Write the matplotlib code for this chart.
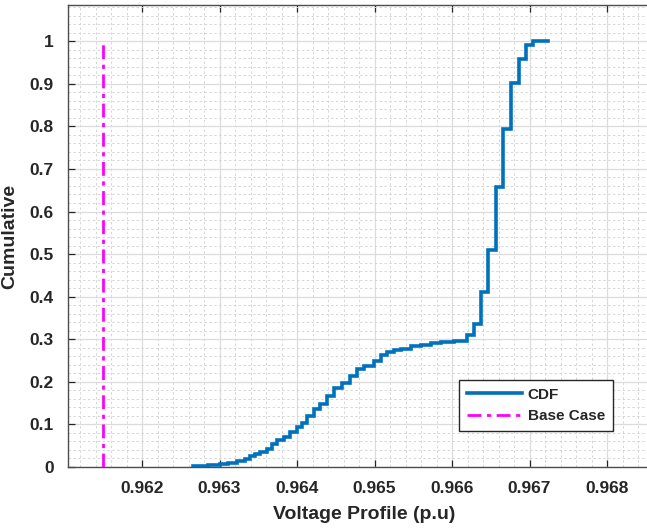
import matplotlib
matplotlib.use("Agg")
import matplotlib.pyplot as plt
from matplotlib.ticker import MultipleLocator, FixedLocator, FixedFormatter

# ---- data ----
cdf_x = [0.962664, 0.962664, 0.962858, 0.963009, 0.963116, 0.963224, 0.963332,
         0.963397, 0.963461, 0.963526, 0.963612, 0.963677, 0.963741, 0.963828,
         0.963914, 0.964000, 0.964065, 0.964129, 0.964216, 0.964302, 0.964388,
         0.964474, 0.964582, 0.964690, 0.964776, 0.964862, 0.964991, 0.965078,
         0.965164, 0.965250, 0.965336, 0.965466, 0.965595, 0.965724, 0.965853,
         0.966026, 0.966190, 0.966280, 0.966370, 0.966470, 0.966570, 0.966660,
         0.966760, 0.966860, 0.966950, 0.967050, 0.967240]
cdf_y = [0.0, 0.003, 0.005, 0.008, 0.010, 0.014, 0.019,
         0.025, 0.030, 0.036, 0.042, 0.054, 0.063, 0.071,
         0.083, 0.095, 0.103, 0.119, 0.137, 0.147, 0.166,
         0.186, 0.198, 0.214, 0.230, 0.238, 0.250, 0.262,
         0.269, 0.274, 0.277, 0.283, 0.287, 0.291, 0.293,
         0.296, 0.310, 0.336, 0.411, 0.509, 0.658, 0.793,
         0.902, 0.959, 0.990, 1.000, 1.000]
base_case_x = [0.9615, 0.9615]
base_case_y = [0.0, 1.0]

x_ticks = [0.962, 0.963, 0.964, 0.965, 0.966, 0.967, 0.968]
x_ticklabels = ["0.962", "0.963", "0.964", "0.965", "0.966", "0.967", "0.968"]
y_ticks = [0, 0.1, 0.2, 0.3, 0.4, 0.5, 0.6, 0.7, 0.8, 0.9, 1.0]
y_ticklabels = ["0", "0.1", "0.2", "0.3", "0.4", "0.5", "0.6", "0.7", "0.8", "0.9", "1"]

plt.rcParams['font.family'] = ['Liberation Sans', 'DejaVu Sans']

W, H = 647, 528
fig = plt.figure(figsize=(W / 100, H / 100), dpi=100)

left_px, right_px, top_px, bottom_px = 67.5, 660, 5, 467
ax = fig.add_axes([left_px / W, 1 - bottom_px / H,
                   (right_px - left_px) / W, (bottom_px - top_px) / H])

x0_px, dx_px = 142.0, 77.5  # pixel of 0.962, pixels per 0.001
xmin = 0.962 - (x0_px - left_px) / dx_px * 0.001
xmax = 0.962 + (right_px - x0_px) / dx_px * 0.001
ax.set_xlim(xmin, xmax)
ax.set_ylim(0, 1.085)

txt = '#262626'
ax.step(cdf_x, cdf_y, where='post', color='#0072BD', lw=2.6, label='CDF',
        zorder=3, solid_joinstyle='miter')
ax.plot(base_case_x, base_case_y, color='#FF00FF', lw=2.0, ls=(0, (5, 2, 1.5, 2)),
        label='Base Case', zorder=3)

ax.xaxis.set_major_locator(FixedLocator(x_ticks))
ax.xaxis.set_major_formatter(FixedFormatter(x_ticklabels))
ax.yaxis.set_major_locator(FixedLocator(y_ticks))
ax.yaxis.set_major_formatter(FixedFormatter(y_ticklabels))
ax.xaxis.set_minor_locator(MultipleLocator(0.0002))
ax.yaxis.set_minor_locator(MultipleLocator(0.02))

ax.grid(True, which='major', color='#dcdcdc', lw=0.9, ls='-', zorder=0)
ax.grid(True, which='minor', color='#d6d6d6', lw=0.7, ls=(0, (2.5, 2.5)), zorder=0)
ax.set_axisbelow(True)

ax.tick_params(which='major', direction='in', length=5, width=0.9, color=txt,
               top=True, right=True, labelsize=12.5, labelcolor=txt, pad=10)
ax.tick_params(which='minor', length=0, top=True, right=True)
for lab in ax.get_xticklabels() + ax.get_yticklabels():
    lab.set_fontweight('bold')
for s in ax.spines.values():
    s.set_color('#4d4d4d')
    s.set_linewidth(1.0)

ax.set_xlabel('Voltage Profile (p.u)', fontsize=14, fontweight='bold', color=txt, labelpad=7)
ax.set_ylabel('Cumulative', fontsize=14, fontweight='bold', color=txt, labelpad=8)

leg = ax.legend(loc='upper left', bbox_to_anchor=(459 / W, 1 - 380 / H),
                bbox_transform=fig.transFigure, prop={'weight': 'bold', 'size': 11},
                handlelength=3.6, handletextpad=0.4, borderpad=0.5, labelspacing=0.5,
                borderaxespad=0, fancybox=False, framealpha=1, edgecolor='#262626')
leg.get_frame().set_linewidth(1.0)
for t in leg.get_texts():
    t.set_color(txt)

fig.savefig('out.png', dpi=100)
